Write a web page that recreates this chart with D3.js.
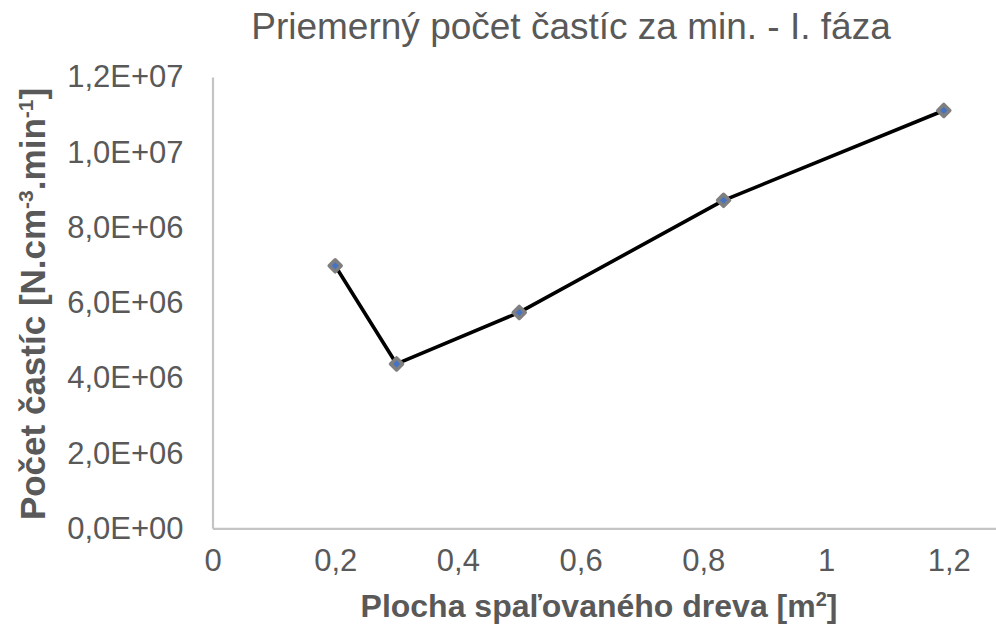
<!DOCTYPE html>
<html>
<head>
<meta charset="utf-8">
<script src="https://cdn.jsdelivr.net/npm/d3@7"></script>
<style>
  body { margin: 0; background: #fff; }
  svg { display: block; font-family: "Liberation Sans", Arial, sans-serif; }
</style>
</head>
<body>
<div class="canvas"></div>
<script>
// the numbers
var plocha = [0.2, 0.3, 0.5, 0.833, 1.192],
    pocet = [6.98e6, 4.37e6, 5.74e6, 8.72e6, 1.111e7];

var xTicks = [0, 0.2, 0.4, 0.6, 0.8, 1, 1.2],
    xTickLabels = ['0', '0,2', '0,4', '0,6', '0,8', '1', '1,2'],
    yTicks = [0, 2e6, 4e6, 6e6, 8e6, 1e7, 1.2e7],
    yTickLabels = ['0,0E+00', '2,0E+06', '4,0E+06', '6,0E+06', '8,0E+06', '1,0E+07', '1,2E+07'];

var title = 'Priemerný počet častíc za min. - I. fáza';

// where does it live
var width = 996,
    height = 627,
    plot = { left: 212.5, top: 77, bottom: 528.3 },
    textColor = '#595959';

var svg = d3.select('.canvas').append('svg')
    .attr('width', width)
    .attr('height', height);

// axis runs past 1,2 and off the picture
var x = d3.scaleLinear().domain([0, 1.4]).range([plot.left, plot.left + 613.5 * 1.4]),
    y = d3.scaleLinear().domain([0, 1.2e7]).range([plot.bottom, plot.top]);

var xAxis = svg.append('g')
    .attr('transform', 'translate(0,' + plot.bottom + ')')
    .call(d3.axisBottom(x)
        .tickValues(xTicks)
        .tickSize(0)
        .tickPadding(21)
        .tickFormat(function (d, i) { return xTickLabels[i]; }));

var yAxis = svg.append('g')
    .attr('transform', 'translate(' + plot.left + ',0)')
    .call(d3.axisLeft(y)
        .tickValues(yTicks)
        .tickSize(0)
        .tickPadding(29)
        .tickFormat(function (d, i) { return yTickLabels[i]; }));

[xAxis, yAxis].forEach(function (a) {
    a.select('.domain').attr('stroke', '#c4c4c4').attr('stroke-width', 2.2);
    a.selectAll('text')
        .attr('fill', textColor)
        .style('font-size', '31px');
});

// the line
var pts = plocha.map(function (p, i) { return { x: p, y: pocet[i] }; });

svg.append('path')
    .datum(pts)
    .attr('fill', 'none')
    .attr('stroke', '#000')
    .attr('stroke-width', 3.6)
    .attr('stroke-linejoin', 'round')
    .attr('d', d3.line()
        .x(function (d) { return x(d.x); })
        .y(function (d) { return y(d.y); }));

svg.selectAll('path.marker')
    .data(pts)
    .enter()
    .append('path')
    .attr('class', 'marker')
    .attr('d', d3.symbol().type(d3.symbolSquare).size(72))
    .attr('transform', function (d) {
        return 'translate(' + x(d.x) + ',' + y(d.y) + ') rotate(45)';
    })
    .attr('fill', '#4472c4')
    .attr('stroke', '#7f7f7f')
    .attr('stroke-width', 3.5)
    .attr('stroke-linejoin', 'round');

// words
svg.append('text')
    .attr('x', 571)
    .attr('y', 39)
    .attr('text-anchor', 'middle')
    .attr('fill', textColor)
    .style('font-size', '37px')
    .text(title);

var xt = svg.append('text')
    .attr('x', 599)
    .attr('y', 617)
    .attr('text-anchor', 'middle')
    .attr('fill', textColor)
    .style('font-size', '32px')
    .style('font-weight', 'bold');
xt.append('tspan').text('Plocha spaľovaného dreva [m');
xt.append('tspan').attr('dy', -11).style('font-size', '20px').text('2');
xt.append('tspan').attr('dy', 11).text(']');

var yt = svg.append('text')
    .attr('transform', 'translate(45,304) rotate(-90)')
    .attr('text-anchor', 'middle')
    .attr('fill', textColor)
    .style('font-size', '35px')
    .style('font-weight', 'bold');
yt.append('tspan').text('Počet častíc [N.cm');
yt.append('tspan').attr('dy', -12).style('font-size', '21px').text('-3');
yt.append('tspan').attr('dy', 12).text('.min');
yt.append('tspan').attr('dy', -12).style('font-size', '21px').text('-1');
yt.append('tspan').attr('dy', 12).text(']');
</script>
</body>
</html>
